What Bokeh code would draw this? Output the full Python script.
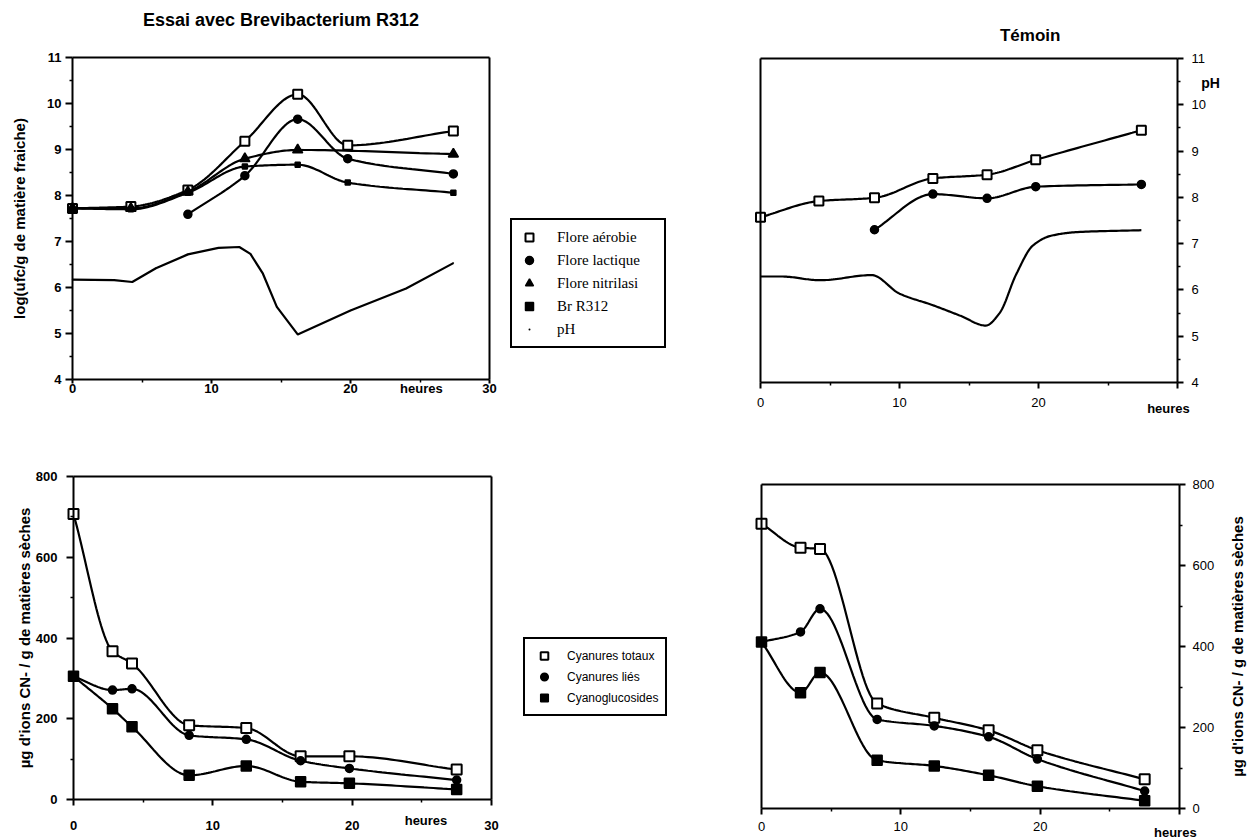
import numpy as np
from bokeh.plotting import figure
from bokeh.models import Range1d, FixedTicker, Legend, LegendItem, LinearAxis, Label
from bokeh.layouts import column, row
from bokeh.embed import file_html
from bokeh.resources import INLINE

# ---------------- data ----------------
# Top left : Essai avec Brevibacterium R312  (log ufc/g, pH)
t_essai = [0, 4.2, 8.3, 12.4, 16.2, 19.8, 27.4]
essai_aerobie = [7.72, 7.76, 8.12, 9.18, 10.2, 9.09, 9.40]
t_essai_lactique = [8.3, 12.4, 16.2, 19.8, 27.4]
essai_lactique = [7.59, 8.43, 9.66, 8.80, 8.47]
t_essai_nitril = [0, 4.2, 8.3, 12.4, 16.2, 27.4]
essai_nitril = [7.72, 7.72, 8.08, 8.80, 8.99, 8.90]
essai_br = [7.72, 7.70, 8.06, 8.63, 8.67, 8.28, 8.06]
t_essai_ph = [0, 3.0, 4.3, 6.0, 8.3, 10.5, 12.0, 12.8, 13.7, 14.7, 16.2, 20.0, 24.0, 27.4]
essai_ph = [6.17, 6.16, 6.12, 6.42, 6.72, 6.86, 6.88, 6.73, 6.30, 5.58, 4.98, 5.50, 5.98, 6.53]

# Top right : Témoin
t_temoin = [0, 4.2, 8.2, 12.4, 16.3, 19.8, 27.4]
temoin_aerobie = [7.57, 7.92, 7.99, 8.41, 8.49, 8.81, 9.45]
t_temoin_lactique = [8.2, 12.4, 16.3, 19.8, 27.4]
temoin_lactique = [7.30, 8.07, 7.98, 8.23, 8.28]
t_temoin_ph = [0, 1.5, 4.3, 8.0, 10.0, 12.4, 14.4, 16.2, 17.2, 18.4, 19.6, 20.9, 22.8, 27.4]
temoin_ph = [6.29, 6.29, 6.21, 6.32, 5.92, 5.67, 5.44, 5.23, 5.50, 6.34, 6.96, 7.17, 7.25, 7.29]

# Bottom : cyanures (µg CN- / g matières sèches)
t_cyan = [0, 2.8, 4.2, 8.3, 12.4, 16.3, 19.8, 27.5]
essai_totaux = [707, 367, 337, 184, 177, 107, 107, 74]
essai_lies = [305, 271, 274, 159, 149, 96, 77, 48]
essai_gluco = [305, 225, 180, 60, 83, 44, 40, 25]
temoin_totaux = [703, 644, 641, 259, 224, 193, 144, 72]
temoin_lies = [411, 436, 493, 220, 204, 177, 122, 43]
temoin_gluco = [411, 286, 336, 119, 105, 82, 55, 19]

x_ticks = [0, 10, 20, 30]
x_minor = [5, 15, 25]
ph_ticks = [4, 5, 6, 7, 8, 9, 10, 11]
ph_minor = [4.5, 5.5, 6.5, 7.5, 8.5, 9.5, 10.5]
cn_ticks = [0, 200, 400, 600, 800]
cn_minor = [100, 300, 500, 700]

legend_flore = ["Flore aérobie", "Flore lactique", "Flore nitrilasi", "Br R312", "pH"]
legend_cyan = ["Cyanures totaux", "Cyanures liés", "Cyanoglucosides"]
title_essai = "Essai avec Brevibacterium R312"
title_temoin = "Témoin"
y_title_top = "log(ufc/g de matière fraiche)"
y_title_bottom = "µg d'ions CN- / g de matières sèches"

FONT = "Liberation Sans"
XR = (0, 30)
PHR = (4, 11)
CNR = (0, 800)


def smooth(xs, ys, n=24):
    """Shape-preserving cubic Hermite curve through the points (drawing only)."""
    x = np.asarray(xs, float)
    y = np.asarray(ys, float)
    h = np.diff(x)
    d = np.diff(y) / h
    m = np.zeros_like(y)
    m[0], m[-1] = d[0], d[-1]
    for k in range(1, len(x) - 1):
        if d[k - 1] * d[k] <= 0:
            m[k] = 0.0
        else:
            w1 = 2 * h[k] + h[k - 1]
            w2 = h[k] + 2 * h[k - 1]
            m[k] = (w1 + w2) / (w1 / d[k - 1] + w2 / d[k])
    xx, yy = [], []
    for k in range(len(x) - 1):
        s = np.linspace(0, 1, n, endpoint=(k == len(x) - 2))
        h00 = 2 * s**3 - 3 * s**2 + 1
        h10 = s**3 - 2 * s**2 + s
        h01 = -2 * s**3 + 3 * s**2
        h11 = s**3 - s**2
        xx.append(x[k] + s * h[k])
        yy.append(h00 * y[k] + h10 * h[k] * m[k] + h01 * y[k + 1] + h11 * h[k] * m[k + 1])
    return np.concatenate(xx), np.concatenate(yy)


def panel(w, h, box, xr, yr):
    """Figure whose frame fills it; the data box (left, top, right, bottom px) maps xr x yr."""
    bx0, by0, bx1, by1 = box
    kx = (bx1 - bx0) / (xr[1] - xr[0])
    ky = (by1 - by0) / (yr[1] - yr[0])
    p = figure(width=w, height=h,
               x_range=Range1d(xr[0] - bx0 / kx, xr[1] + (w - bx1) / kx),
               y_range=Range1d(yr[0] - (h - by1) / ky, yr[1] + by0 / ky),
               x_axis_location=None, y_axis_location=None,
               output_backend="svg", toolbar_location=None,
               min_border_left=0, min_border_right=0, min_border_top=0, min_border_bottom=0)
    p.grid.visible = False
    p.outline_line_color = None
    p.background_fill_color = "white"
    p.border_fill_color = "white"
    return p


def add_axis(p, side, loc, bounds, ticks=(), minor=(), size="13px", bold=False,
             tick_out=0, minor_out=0, standoff=0, overrides=None):
    ax = LinearAxis(fixed_location=loc, bounds=bounds,
                    ticker=FixedTicker(ticks=list(ticks), minor_ticks=list(minor)))
    ax.axis_line_width = 2
    ax.axis_line_color = "black"
    ax.major_tick_line_width = 2
    ax.major_tick_line_color = "black"
    ax.minor_tick_line_width = 1.5
    ax.minor_tick_line_color = "black"
    ax.major_tick_out = tick_out
    ax.major_tick_in = 0
    ax.minor_tick_out = minor_out
    ax.minor_tick_in = 0
    ax.major_label_text_font = FONT
    ax.major_label_text_font_size = size
    ax.major_label_text_color = "black"
    ax.major_label_text_font_style = "bold" if bold else "normal"
    ax.major_label_standoff = standoff
    if overrides:
        ax.major_label_overrides = overrides
    p.add_layout(ax, side)
    return ax


def axis_title(ax, text, standoff):
    ax.axis_label = text
    ax.axis_label_text_font = FONT
    ax.axis_label_text_font_size = "15px"
    ax.axis_label_text_font_style = "bold"
    ax.axis_label_text_color = "black"
    ax.axis_label_standoff = standoff


def text(p, x, y, s, size, xo=0, yo=0, angle=0.0, bold=True):
    p.add_layout(Label(x=x, y=y, x_offset=xo, y_offset=yo, text=s, angle=angle,
                       text_align="center", text_baseline="middle",
                       text_font=FONT, text_font_size=size,
                       text_font_style="bold" if bold else "normal", text_color="black"))


def series(p, xs, ys, marker, size, fill, mlw=1.5):
    sx, sy = smooth(xs, ys)
    p.line(sx, sy, line_color="black", line_width=2.2)
    return p.scatter(xs, ys, marker=marker, size=size, fill_color=fill,
                     line_color="black", line_width=mlw)


def legend(p, labels, rends, font, fsize, loc, gw, gh, standoff, lwidth, spacing):
    leg = Legend(items=[LegendItem(label=l, renderers=[r]) for l, r in zip(labels, rends)],
                 location=loc, orientation="vertical")
    leg.label_text_font = font
    leg.label_text_font_size = fsize
    leg.label_text_color = "black"
    leg.glyph_width = gw
    leg.glyph_height = gh
    leg.label_height = gh
    if lwidth:
        leg.label_width = lwidth
    leg.spacing = spacing
    leg.padding = 7
    leg.margin = 0
    leg.label_standoff = standoff
    leg.border_line_color = "black"
    leg.border_line_width = 2
    leg.border_line_alpha = 1
    leg.background_fill_color = "white"
    leg.background_fill_alpha = 1
    p.add_layout(leg)


def box_lines(p, xr, yr, sides):
    for side in sides:
        if side in ("above", "below"):
            loc = yr[1] if side == "above" else yr[0]
            add_axis(p, side, loc, xr, size="0px")
        else:
            loc = xr[0] if side == "left" else xr[1]
            add_axis(p, side, loc, yr, size="0px")


# ---------------- top left ----------------
p1 = panel(720, 430, (72, 57, 489, 379), XR, PHR)
box_lines(p1, XR, PHR, ["above", "right"])
add_axis(p1, "below", PHR[0], XR, x_ticks, x_minor, "13px", True, 4, 3, 0)
ay1 = add_axis(p1, "left", XR[0], PHR, ph_ticks, ph_minor, "13px", True, 7, 3, 4)
axis_title(ay1, y_title_top, 16)
r_aer = series(p1, t_essai, essai_aerobie, "square", 9, "white", 2)
r_lac = series(p1, t_essai_lactique, essai_lactique, "circle", 8, "black")
r_nit = series(p1, t_essai_nitril, essai_nitril, "triangle", 10, "black")
r_br = series(p1, t_essai, essai_br, "square", 5, "black")
p1.line(t_essai_ph, essai_ph, line_color="black", line_width=2.2)
r_ph = p1.scatter(t_essai_ph, essai_ph, marker="dot", size=6, line_color="black", fill_color="black")
legend(p1, legend_flore, [r_aer, r_lac, r_nit, r_br, r_ph], "Liberation Serif", "15px",
       (510, 82), 20, 20, 18, 100, 3)
text(p1, 15, PHR[1], title_essai, "18px", yo=38)
text(p1, 25.1, PHR[0], "heures", "13px", yo=-9)

# ---------------- top right ----------------
p2 = panel(538, 430, (40, 58, 457, 382), XR, PHR)
box_lines(p2, XR, PHR, ["above", "left"])
add_axis(p2, "below", PHR[0], XR, x_ticks, x_minor, "13px", False, 6, 3, 9, {30: ""})
add_axis(p2, "right", XR[1], PHR, ph_ticks, ph_minor, "13px", False, 6, 3, 8)
series(p2, t_temoin, temoin_aerobie, "square", 9, "white", 2)
series(p2, t_temoin_lactique, temoin_lactique, "circle", 8, "black")
ph2_x, ph2_y = smooth(t_temoin_ph, temoin_ph)
p2.line(ph2_x, ph2_y, line_color="black", line_width=2.2)
text(p2, 19.4, PHR[1], title_temoin, "17px", yo=23)
text(p2, XR[1], 10.46, "pH", "14px", xo=33)
text(p2, 29.35, PHR[0], "heures", "13px", yo=-26)

# ---------------- bottom left ----------------
p3 = panel(720, 409, (73, 46, 491, 369), XR, CNR)
box_lines(p3, XR, CNR, ["above", "right"])
add_axis(p3, "below", CNR[0], XR, x_ticks, x_minor, "13px", True, 6, 3, 15)
ay3 = add_axis(p3, "left", XR[0], CNR, cn_ticks, cn_minor, "13px", True, 7, 3, 9)
axis_title(ay3, y_title_bottom, 0)
r_tot = series(p3, t_cyan, essai_totaux, "square", 10, "white", 2)
r_lie = series(p3, t_cyan, essai_lies, "circle", 8, "black")
r_glu = series(p3, t_cyan, essai_gluco, "square", 10, "black")
legend(p3, legend_cyan, [r_tot, r_lie, r_glu], FONT, "12px", (523, 123), 24, 19, 11, None, 2)
text(p3, 25.3, CNR[0], "heures", "13px", yo=-21)

# ---------------- bottom right ----------------
p4 = panel(538, 409, (41, 54, 459, 378), XR, CNR)
box_lines(p4, XR, CNR, ["above", "left"])
add_axis(p4, "below", CNR[0], XR, x_ticks, x_minor, "13px", False, 6, 3, 7, {30: ""})
add_axis(p4, "right", XR[1], CNR, cn_ticks, cn_minor, "13px", False, 6, 3, 7)
series(p4, t_cyan, temoin_totaux, "square", 10, "white", 2)
series(p4, t_cyan, temoin_lies, "circle", 8, "black")
series(p4, t_cyan, temoin_gluco, "square", 10, "black")
text(p4, XR[1], 400, y_title_bottom, "15px", xo=58, angle=np.pi / 2)
text(p4, 29.7, CNR[0], "heures", "13px", yo=-24)

layout = column(row(p1, p2, spacing=0), row(p3, p4, spacing=0), spacing=0)
open("out.html", "w").write(file_html(layout, INLINE))
